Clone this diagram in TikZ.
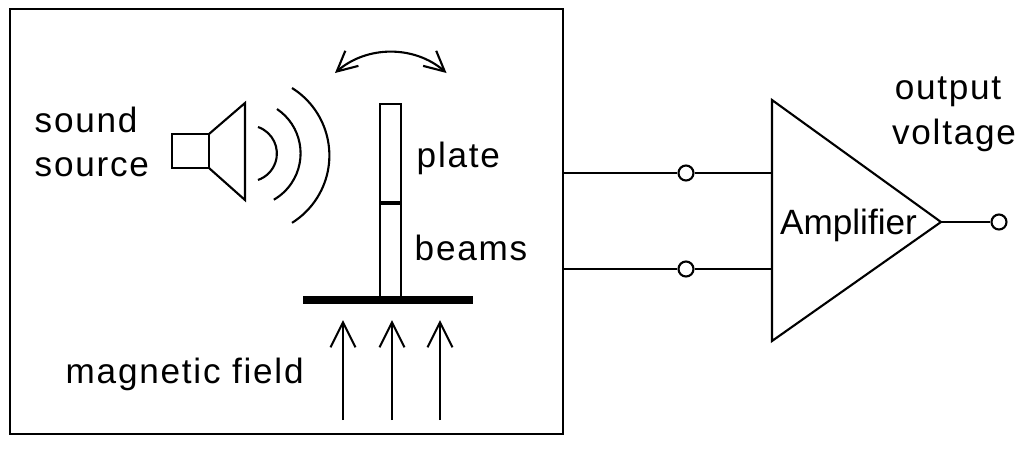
\documentclass[tikz,border=0pt]{standalone}
\usepackage{fontspec}
\setmainfont{Liberation Sans}
\newfontfamily\widefont[LetterSpace=5]{Liberation Sans}
\usetikzlibrary{arrows.meta}
\tikzset{
  wire/.style={line width=0.6pt},
  terminal/.style={circle,draw,line width=0.6pt,fill=white,inner sep=0pt,minimum size=0.15cm},
  barb/.style={line width=0.6pt,-{Straight Barb[length=0.25cm,width=0.25cm,line width=0.6pt]}},
  swing/.style={line width=0.6pt,{Straight Barb[length=0.2cm,width=0.2cm,line width=0.6pt]}-{Straight Barb[length=0.2cm,width=0.2cm,line width=0.6pt]}},
  lbl/.style={inner sep=0pt,font=\fontsize{10}{12}\selectfont\widefont}
}
\begin{document}
\begin{tikzpicture}
                \useasboundingbox (0,0) rectangle (10.24,4.49);
                \node[draw,line width=0.6pt,minimum width=5.53cm,minimum height=4.25cm,inner sep=0pt] (box) at (2.865,2.275) {};

                \node[lbl,anchor=west] (sound) at (0.34,3.29) {sound};
                \node[lbl,anchor=west] (source) at (0.34,2.82) {source};
                \node[lbl,anchor=west] (plate) at (4.16,2.91) {plate};
                \node[lbl,anchor=west] (beams) at (4.14,2.01) {beams};
                \node[lbl,anchor=west] (field) at (0.65,0.75) {magnetic field};
                \node[lbl] (output) at (9.48,3.57) {output};
                \node[lbl] (voltage) at (9.54,3.14) {voltage};

                % speaker
                \draw[wire] (1.72,3.15) rectangle (2.09,2.81);
                \draw[wire] (2.09,3.15) -- (2.45,3.46) -- (2.45,2.49) -- (2.09,2.81);
                \draw[wire] (2.58,3.22) arc[start angle=71,end angle=-71,radius=0.28];
                \draw[wire] (2.77,3.40) arc[start angle=56,end angle=-60,radius=0.535];
                \draw[wire] (2.92,3.61) arc[start angle=58,end angle=-58,radius=0.795];

                % plate and beams
                \draw[wire] (3.80,3.45) rectangle (4.01,1.51);
                \draw[line width=1pt] (3.80,2.46) -- (4.01,2.46);
                \draw[line width=2pt] (3.03,1.49) -- (4.73,1.49);
                \draw[swing] (3.35,3.76) arc[start angle=131,end angle=49,radius=0.85];

                % field
                \foreach \x/\name in {3.43/fa,3.92/fb,4.40/fc} {
                  \coordinate (\name bot) at (\x,0.29);
                  \coordinate (\name top) at (\x,1.29);
                  \draw[barb] (\name bot) -- (\name top);
                }

                % amplifier
                \coordinate (ampa) at (7.72,3.49);
                \coordinate (ampb) at (7.72,1.08);
                \coordinate (ampc) at (9.41,2.27);
                \draw[wire] (ampa) -- (ampb) -- (ampc) -- cycle;
                \node[inner sep=0pt,font=\fontsize{10}{12}\selectfont] (amp) at (8.485,2.24) {Amplifier};

                \node[terminal] (ta) at (6.86,2.76) {};
                \node[terminal] (tb) at (6.86,1.80) {};
                \node[terminal] (tc) at (9.99,2.27) {};
                \draw[wire] (box.east |- ta) -- (ta); \draw[wire] (ta) -- (ta -| ampa);
                \draw[wire] (box.east |- tb) -- (tb); \draw[wire] (tb) -- (tb -| ampa);
                \draw[wire] (ampc) -- (tc);
            \end{tikzpicture}
\end{document}
